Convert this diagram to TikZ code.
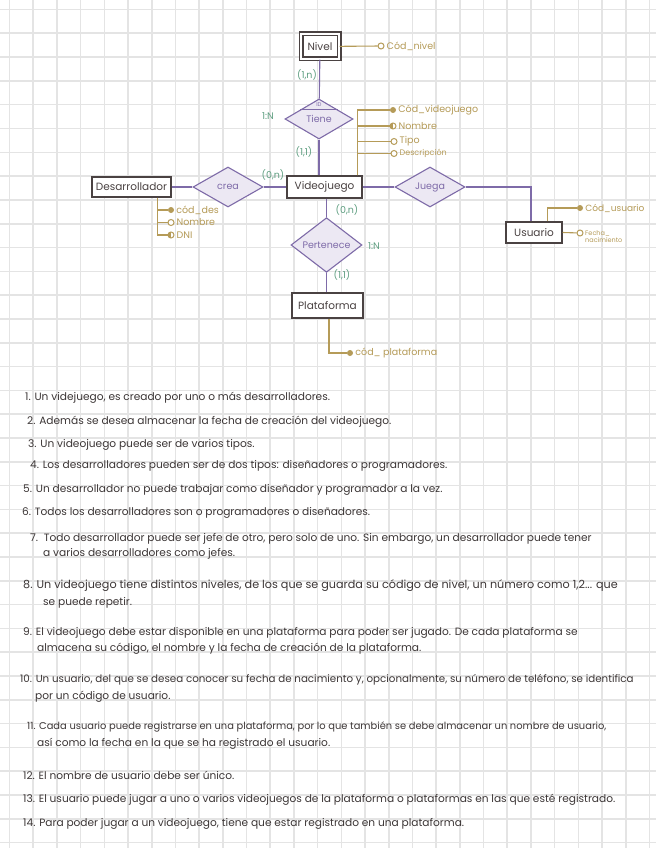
\documentclass[tikz,border=0pt]{standalone}
\usepackage{fontspec}
\setmainfont{Poppins}
\usetikzlibrary{positioning,shapes.geometric,calc}

\definecolor{gridgray}{HTML}{E4E4E4}
\definecolor{relpurple}{HTML}{7E6BA8}
\definecolor{relfill}{HTML}{ECE8F3}
\definecolor{entdark}{HTML}{4A4242}
\definecolor{attgold}{HTML}{B59B58}
\definecolor{cardgreen}{HTML}{5E9E80}
\definecolor{txtdark}{HTML}{3C3636}

\begin{document}
\begin{tikzpicture}[x=1pt,y=-1pt,
 every node/.style={font=\fontsize{9.5}{10}\selectfont},
 gridline/.style={gridgray,line width=1.6pt},
 ent/.style={draw=entdark,line width=1.3pt,fill=white,text=entdark,inner sep=3pt,font=\fontsize{10.5}{11}\selectfont},
 rel/.style={diamond,draw=relpurple,line width=1.1pt,fill=relfill,text=relpurple,inner sep=0pt,
   minimum width=70pt,minimum height=40pt,font=\fontsize{9.5}{10}\selectfont},
 link/.style={relpurple,line width=1.1pt},
 attline/.style={attgold,line width=1.1pt},
 keyatt/.style={circle,fill=attgold,inner sep=0pt,minimum size=6pt},
 optatt/.style={circle,draw=attgold,fill=white,line width=1pt,inner sep=0pt,minimum size=6pt},
 halfatt/.style={optatt,path picture={\fill[attgold] (path picture bounding box.north west) rectangle (path picture bounding box.south);}},
 attlabel/.style={text=attgold,anchor=west,inner sep=2pt},
 card/.style={text=cardgreen,font=\fontsize{9.5}{10}\selectfont},
 rule/.style={text=txtdark,anchor=west,inner sep=0pt,font=\fontsize{10.6}{12}\selectfont}]
\fill[white] (0,0) rectangle (656,848);
\useasboundingbox (0,0) rectangle (656,848);
% squared paper
\foreach \k in {0,...,27}
  \draw[gridline] ({9.5+23.7*\k},0) -- ({9.5+23.7*\k},848);
\foreach \k in {0,...,35}
  \draw[gridline] (0,{9.5+23.8*\k}) -- (656,{9.5+23.8*\k});

% entities
\node[ent,double,double distance=2.4pt,minimum width=38pt,minimum height=25pt] (nivel) at (320,46.5) {Nivel};
\node[ent,minimum width=75pt,minimum height=22pt] (vj) at (324.5,187) {Videojuego};
\node[ent,minimum width=79pt,minimum height=20pt] (des) at (131.5,187) {Desarrollador};
\node[ent,minimum width=56pt,minimum height=21pt] (usu) at (534,232.5) {Usuario};
\node[ent,minimum width=71pt,minimum height=25pt] (plat) at (327.5,305.5) {Plataforma};

% relationships
\node[rel,minimum width=68pt] (tiene) at (319,119) {Tiene};
\node[rel] (crea) at (228,187) {crea};
\node[rel] (juega) at (430,187) {Juega};
\node[rel,minimum width=71pt] (pert) at (326.5,245) {Pertenece};
\draw[link] ($(tiene.north)!0.55!(tiene.west)$) -- ($(tiene.north)!0.55!(tiene.east)$);
\node[text=relpurple,font=\fontsize{5.5}{6}\selectfont,inner sep=0pt] (tieneid) at (319,104.5) {ID};

\draw[link] (nivel) -- (tiene);
\draw[link] (tiene.south) -- (tiene.south |- vj.north);
\draw[link] (des) -- (crea);
\draw[link] (crea) -- (vj);
\draw[link] (vj) -- (juega);
\draw[link] (juega.east) -| ($(usu.north)+(-3,0)$);
\draw[link] (pert.north |- vj.south) -- (pert.north);
\draw[link] (pert.south) -- (pert.south |- plat.north);

% cardinalities
\node[card] (cnivel) at (307,75) {(1,n)};
\node[card] (ttiene) at (268,116) {1:N};
\node[card] (cvj1) at (304,152) {(1,1)};
\node[card] (ccrea) at (273,175) {(0,n)};
\node[card] (cvj2) at (347,210) {(0,n)};
\node[card] (tpert) at (374,246) {1:N};
\node[card] (cplat) at (342,275) {(1,1)};

% attributes
\node[optatt] (nivc) at (381,46) {};
\node[attlabel] (nivt) at (nivc.east) {Cód\_nivel};
\draw[attline] (nivel) -- (nivc);

\coordinate (vjroot) at ($(vj.north east)+(-5,0)$);
\node[keyatt] (vjc1) at (393,110) {};
\node[halfatt] (vjc2) at (393,126) {};
\node[optatt] (vjc3) at (394,141.5) {};
\node[optatt] (vjc4) at (394,153.5) {};
\node[attlabel] (vjt1) at (vjc1.east) {Cód\_videojuego};
\node[attlabel] (vjt2) at (vjc2.east) {Nombre};
\node[attlabel] (vjt3) at (vjc3.east) {Tipo};
\node[attlabel,font=\fontsize{8}{9}\selectfont] (vjt4) at (vjc4.east) {Descripción};
\draw[attline] (vjroot) |- (vjc1);
\draw[attline] (vjroot) |- (vjc2);
\draw[attline] (vjroot) |- (vjc3);
\draw[attline] (vjroot) |- (vjc4);

\coordinate (desroot) at ($(des.south east)+(-14,0)$);
\node[keyatt] (desc1) at (171,210) {};
\node[optatt] (desc2) at (171,222.5) {};
\node[halfatt] (desc3) at (171,235) {};
\node[attlabel] (dest1) at (desc1.east) {cód\_des};
\node[attlabel] (dest2) at (desc2.east) {Nombre};
\node[attlabel] (dest3) at (desc3.east) {DNI};
\draw[attline] (desroot) |- (desc1);
\draw[attline] (desroot) |- (desc2);
\draw[attline] (desroot) |- (desc3);

\node[keyatt] (usuc1) at (580,208) {};
\node[optatt] (usuc2) at (580,233) {};
\node[attlabel,font=\fontsize{9}{10}\selectfont] (usut1) at (usuc1.east) {Cód\_usuario};
\node[attlabel,anchor=north west,align=left,font=\fontsize{6.5}{7}\selectfont] (usut2) at (583,228.5) {Fecha\_\\nacimiento};
\draw[attline] ($(usu.north east)+(-15,0)$) |- (usuc1);
\draw[attline] (usu.east) -- (usuc2);

\node[keyatt] (platc) at (350,353) {};
\node[attlabel] (platt) at (platc.east) {cód\_ plataforma};
\draw[attline] ($(plat.south)+(1.5,0)$) |- (platc);

% requirements
\node[rule] (r1) at (25,398) {1. Un videjuego, es creado por uno o más desarrolladores.};
\node[rule] (r2) at (27,422) {2. Además se desea almacenar la fecha de creación del videojuego.};
\node[rule] (r3) at (28,445) {3. Un videojuego puede ser de varios tipos.};
\node[rule] (r4) at (30,466) {4. Los desarrolladores pueden ser de dos tipos: diseñadores o programadores.};
\node[rule] (r5) at (23,490) {5. Un desarrollador no puede trabajar como diseñador y programador a la vez.};
\node[rule] (r6) at (22,513) {6. Todos los desarrolladores son o programadores o diseñadores.};
\node[rule] (r7) at (30,539) {7.\ \ Todo desarrollador puede ser jefe de otro, pero solo de uno. Sin embargo, un desarrollador puede tener};
\node[rule] (r7b) at (43,554) {a varios desarrolladores como jefes.};
\node[rule,font=\fontsize{11.2}{12}\selectfont] (r8) at (23,586) {8. Un videojuego tiene distintos niveles, de los que se guarda su código de nivel, un número como 1,2... que};
\node[rule] (r8b) at (43,603) {se puede repetir.};
\node[rule] (r9) at (23,633) {9. El videojuego debe estar disponible en una plataforma para poder ser jugado. De cada plataforma se};
\node[rule] (r9b) at (37,649) {almacena su código, el nombre y la fecha de creación de la plataforma.};
\node[rule,font=\fontsize{10.3}{12}\selectfont] (r10) at (20,680) {10. Un usuario, del que se desea conocer su fecha de nacimiento y, opcionalmente, su número de teléfono, se identifica};
\node[rule] (r10b) at (35,697) {por un código de usuario.};
\node[rule,font=\fontsize{9.9}{12}\selectfont] (r11) at (27,727) {11. Cada usuario puede registrarse en una plataforma, por lo que también se debe almacenar un nombre de usuario,};
\node[rule] (r11b) at (37,744) {así como la fecha en la que se ha registrado el usuario.};
\node[rule] (r12) at (23,775) {12. El nombre de usuario debe ser único.};
\node[rule] (r13) at (23,800) {13. El usuario puede jugar a uno o varios videojuegos de la plataforma o plataformas en las que esté registrado.};
\node[rule] (r14) at (23,824) {14. Para poder jugar a un videojuego, tiene que estar registrado en una plataforma.};
\end{tikzpicture}
\end{document}
